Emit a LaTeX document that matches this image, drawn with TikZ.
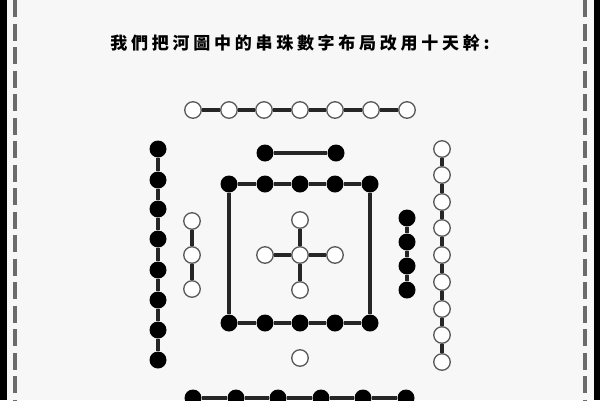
\documentclass[tikz,border=0pt]{standalone}
\usepackage{fontspec}
\newfontfamily\cjk[LetterSpace=22]{Noto Sans CJK TC}
\begin{document}
\begin{tikzpicture}[x=1pt,y=-1pt,
  wb/.style={circle,draw=black!65,line width=1.3pt,fill=white,minimum size=16.5pt,inner sep=0pt},
  bb/.style={circle,fill=black,minimum size=17pt,inner sep=0pt},
  conn/.style={line width=3.6pt,draw=black!85},
  frame/.style={line width=3.5pt,draw=black!58,dash pattern=on 17pt off 6.5pt}]
\useasboundingbox (0,0) rectangle (600,400);
\fill[black!3] (0,0) rectangle (600,400);
\fill[black] (0,0) rectangle (7,400);
\fill[black] (594,0) rectangle (600,400);
\coordinate (fl1) at (15,0); \coordinate (fl2) at (15,400);
\coordinate (fr1) at (585,0); \coordinate (fr2) at (585,400);
\draw[frame] (fl1) -- (fl2);
\draw[frame] (fr1) -- (fr2);
\node[font=\cjk\bfseries\fontsize{17}{19}\selectfont] (title) at (300,43) {我們把河圖中的串珠數字布局改用十天幹:};
% top white row
\foreach \x [count=\i] in {193,229,264,300,335,371,407}{\node[wb] (t\i) at (\x,110) {};}
\foreach \i [evaluate=\i as \j using int(\i+1)] in {1,...,6}{\draw[conn] (t\i) -- (t\j);}
% left black column
\foreach \y [count=\i] in {149,180,209,239,270,300,330,360}{\node[bb] (l\i) at (158,\y) {};}
\foreach \i [evaluate=\i as \j using int(\i+1)] in {1,...,7}{\draw[conn] (l\i) -- (l\j);}
% left white column
\foreach \y [count=\i] in {221,255,289}{\node[wb] (lw\i) at (192,\y) {};}
\draw[conn] (lw1) -- (lw2); \draw[conn] (lw2) -- (lw3);
% top black pair
\node[bb] (p1) at (265,153) {}; \node[bb] (p2) at (336,153) {};
\draw[conn] (p1) -- (p2);
% square top and bottom rows
\foreach \x [count=\i] in {229,265,300,335,370}{\node[bb] (sq\i) at (\x,184) {}; \node[bb] (sb\i) at (\x,323) {};}
\foreach \i [evaluate=\i as \j using int(\i+1)] in {1,...,4}{\draw[conn] (sq\i) -- (sq\j); \draw[conn] (sb\i) -- (sb\j);}
\draw[conn] (sq1) -- (sb1);
\draw[conn] (sq5) -- (sb5);
% center cross
\node[wb] (c0) at (300,255) {};
\node[wb] (cu) at (300,220) {};
\node[wb] (cl) at (265,255) {};
\node[wb] (cr) at (335,255) {};
\node[wb] (cd) at (300,290) {};
\draw[conn] (c0) -- (cu); \draw[conn] (c0) -- (cl); \draw[conn] (c0) -- (cr); \draw[conn] (c0) -- (cd);
% lone white bead
\node[wb] (lone) at (300,358) {};
% right black column
\foreach \y [count=\i] in {218,242,266,290}{\node[bb] (rb\i) at (407,\y) {};}
\foreach \i [evaluate=\i as \j using int(\i+1)] in {1,...,3}{\draw[conn] (rb\i) -- (rb\j);}
% right white column
\foreach \y [count=\i] in {149,175,202,228,255,282,309,335,362}{\node[wb] (rw\i) at (442,\y) {};}
\foreach \i [evaluate=\i as \j using int(\i+1)] in {1,...,8}{\draw[conn] (rw\i) -- (rw\j);}
% bottom black row
\foreach \x [count=\i] in {193,236,278,321,363,406}{\node[bb] (bt\i) at (\x,398) {};}
\foreach \i [evaluate=\i as \j using int(\i+1)] in {1,...,5}{\draw[conn] (bt\i) -- (bt\j);}
\end{tikzpicture}
\end{document}
